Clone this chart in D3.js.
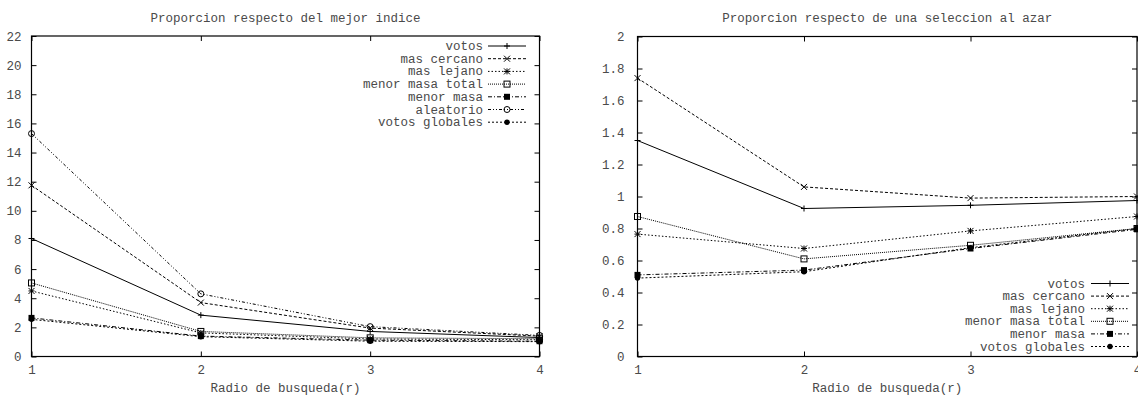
<!DOCTYPE html>
<html>
<head>
<meta charset="utf-8">
<script src="https://cdn.jsdelivr.net/npm/d3@7"></script>
<style>
  html, body { margin: 0; padding: 0; background: #fff; }
  svg { display: block; }
  text { font-family: "Liberation Mono", "DejaVu Sans Mono", monospace; font-size: 12.5px; fill: #4a4a4a; }
</style>
</head>
<body>
<svg id="chart" width="1138" height="398"></svg>
<script>
// ---------- data ----------
const radii = [1, 2, 3, 4];

// Left chart: Proporcion respecto del mejor indice
const leftTitle = "Proporcion respecto del mejor indice";
const leftSeriesNames = ["votos", "mas cercano", "mas lejano", "menor masa total", "menor masa", "aleatorio", "votos globales"];
const leftVotos          = [8.1, 2.84, 1.72, 1.30];
const leftMasCercano     = [11.75, 3.7, 1.95, 1.40];
const leftMasLejano      = [4.5, 1.62, 1.20, 1.15];
const leftMenorMasaTotal = [5.05, 1.72, 1.28, 1.22];
const leftMenorMasa      = [2.65, 1.40, 1.12, 1.05];
const leftAleatorio      = [15.3, 4.3, 2.05, 1.45];
const leftVotosGlobales  = [2.55, 1.36, 1.05, 1.02];
const leftYTicks = [0, 2, 4, 6, 8, 10, 12, 14, 16, 18, 20, 22];

// Right chart: Proporcion respecto de una seleccion al azar
const rightTitle = "Proporcion respecto de una seleccion al azar";
const rightSeriesNames = ["votos", "mas cercano", "mas lejano", "menor masa total", "menor masa", "votos globales"];
const rightVotos          = [1.35, 0.925, 0.945, 0.975];
const rightMasCercano     = [1.74, 1.06, 0.99, 1.0];
const rightMasLejano      = [0.765, 0.675, 0.785, 0.875];
const rightMenorMasaTotal = [0.875, 0.61, 0.695, 0.80];
const rightMenorMasa      = [0.51, 0.54, 0.675, 0.795];
const rightVotosGlobales  = [0.49, 0.53, 0.68, 0.80];
const rightYTicks = [0, 0.2, 0.4, 0.6, 0.8, 1, 1.2, 1.4, 1.6, 1.8, 2];

const xTicks = [1, 2, 3, 4];
const xLabel = "Radio de busqueda(r)";

// ---------- styles ----------
const styles = {
  "votos":            { dash: null,          marker: "plus" },
  "mas cercano":      { dash: "3,2",         marker: "cross" },
  "mas lejano":       { dash: "1.5,2",       marker: "star" },
  "menor masa total": { dash: "1,1",         marker: "square" },
  "menor masa":       { dash: "4,2,1,2",     marker: "fsquare" },
  "aleatorio":        { dash: "3,2,1,2,1,2", marker: "circle" },
  "votos globales":   { dash: "2,2",         marker: "fcircle" }
};

const svg = d3.select("#chart");

function drawMarker(g, type, x, y) {
  const s = 3;
  const c = "#000";
  if (type === "plus") {
    g.append("path").attr("d", `M${x - s},${y}H${x + s}M${x},${y - s}V${y + s}`).attr("stroke", c).attr("stroke-width", 1).attr("fill", "none");
  } else if (type === "cross") {
    g.append("path").attr("d", `M${x - s},${y - s}L${x + s},${y + s}M${x - s},${y + s}L${x + s},${y - s}`).attr("stroke", c).attr("stroke-width", 1).attr("fill", "none");
  } else if (type === "star") {
    g.append("path").attr("d", `M${x - s},${y - s}L${x + s},${y + s}M${x - s},${y + s}L${x + s},${y - s}M${x - s},${y}H${x + s}M${x},${y - s}V${y + s}`).attr("stroke", c).attr("stroke-width", 1).attr("fill", "none");
  } else if (type === "square") {
    g.append("rect").attr("x", x - s).attr("y", y - s).attr("width", 2 * s).attr("height", 2 * s).attr("stroke", c).attr("stroke-width", 1).attr("fill", "none");
  } else if (type === "fsquare") {
    g.append("rect").attr("x", x - s).attr("y", y - s).attr("width", 2 * s).attr("height", 2 * s).attr("fill", c);
  } else if (type === "circle") {
    g.append("circle").attr("cx", x).attr("cy", y).attr("r", s).attr("stroke", c).attr("stroke-width", 1).attr("fill", "none");
  } else if (type === "fcircle") {
    g.append("circle").attr("cx", x).attr("cy", y).attr("r", s * 0.9).attr("fill", c);
  }
}

function drawChart(cfg) {
  const g = svg.append("g");
  const x = d3.scaleLinear().domain([1, 4]).range([cfg.x0, cfg.x1]);
  const y = d3.scaleLinear().domain([0, cfg.yMax]).range([cfg.y0, cfg.y1]);

  // title
  g.append("text").attr("x", (cfg.x0 + cfg.x1) / 2).attr("y", 22).attr("text-anchor", "middle").text(cfg.title);

  // axes with inward ticks
  const tl = 5;
  const left = g.append("g").attr("transform", `translate(${cfg.x0},0)`)
    .call(d3.axisLeft(y).tickValues(cfg.yTicks).tickSize(-tl).tickPadding(cfg.ylabGap + tl).tickFormat(d => String(d)));
  const right = g.append("g").attr("transform", `translate(${cfg.x1},0)`)
    .call(d3.axisRight(y).tickValues(cfg.yTicks).tickSize(-tl).tickFormat(""));
  const bottom = g.append("g").attr("transform", `translate(0,${cfg.y0})`)
    .call(d3.axisBottom(x).tickValues(xTicks).tickSize(-tl).tickPadding(9).tickFormat(d => String(d)));
  const top = g.append("g").attr("transform", `translate(0,${cfg.y1})`)
    .call(d3.axisTop(x).tickValues(xTicks).tickSize(-tl).tickFormat(""));
  [left, right, bottom, top].forEach(a => {
    a.select(".domain").remove();
    a.selectAll(".tick line").attr("stroke", "#000").attr("stroke-width", 1);
    a.selectAll("text").attr("font-family", null).attr("font-size", null).attr("fill", null);
  });
  // frame
  g.append("rect").attr("x", cfg.x0).attr("y", cfg.y1).attr("width", cfg.x1 - cfg.x0).attr("height", cfg.y0 - cfg.y1)
    .attr("fill", "none").attr("stroke", "#000").attr("stroke-width", 1.2);

  // x label
  g.append("text").attr("x", (cfg.x0 + cfg.x1) / 2).attr("y", 392).attr("text-anchor", "middle").text(xLabel);

  // series
  const line = d3.line().x((d, i) => x(radii[i])).y(d => y(d));
  const plot = g.append("g");
  cfg.series.forEach(s => {
    const st = styles[s.name];
    plot.append("path").datum(s.values).attr("d", line).attr("fill", "none").attr("stroke", "#000")
      .attr("stroke-width", 1).attr("stroke-dasharray", st.dash);
    s.values.forEach((v, i) => drawMarker(plot, st.marker, x(radii[i]), y(v)));
  });

  // legend
  const lg = g.append("g");
  cfg.series.forEach((s, i) => {
    const st = styles[s.name];
    const yy = cfg.legY + i * cfg.legStep;
    lg.append("text").attr("x", cfg.legTextX).attr("y", yy + 4).attr("text-anchor", "end").text(s.name);
    lg.append("line").attr("x1", cfg.legLineX0).attr("x2", cfg.legLineX1).attr("y1", yy).attr("y2", yy)
      .attr("stroke", "#000").attr("stroke-width", 1).attr("stroke-dasharray", st.dash);
    drawMarker(lg, st.marker, (cfg.legLineX0 + cfg.legLineX1) / 2, yy);
  });
}

drawChart({
  title: leftTitle, x0: 31.5, x1: 539.5, y0: 356.5, y1: 36, yMax: 22, yTicks: leftYTicks, ylabGap: 5,
  series: [
    { name: leftSeriesNames[0], values: leftVotos },
    { name: leftSeriesNames[1], values: leftMasCercano },
    { name: leftSeriesNames[2], values: leftMasLejano },
    { name: leftSeriesNames[3], values: leftMenorMasaTotal },
    { name: leftSeriesNames[4], values: leftMenorMasa },
    { name: leftSeriesNames[5], values: leftAleatorio },
    { name: leftSeriesNames[6], values: leftVotosGlobales }
  ],
  legY: 46, legStep: 12.7, legTextX: 483, legLineX0: 488, legLineX1: 526
});

drawChart({
  title: rightTitle, x0: 637.5, x1: 1137, y0: 356.5, y1: 36.5, yMax: 2, yTicks: rightYTicks, ylabGap: 8,
  series: [
    { name: rightSeriesNames[0], values: rightVotos },
    { name: rightSeriesNames[1], values: rightMasCercano },
    { name: rightSeriesNames[2], values: rightMasLejano },
    { name: rightSeriesNames[3], values: rightMenorMasaTotal },
    { name: rightSeriesNames[4], values: rightMenorMasa },
    { name: rightSeriesNames[5], values: rightVotosGlobales }
  ],
  legY: 283.5, legStep: 12.6, legTextX: 1085, legLineX0: 1091, legLineX1: 1129
});
</script>
</body>
</html>
